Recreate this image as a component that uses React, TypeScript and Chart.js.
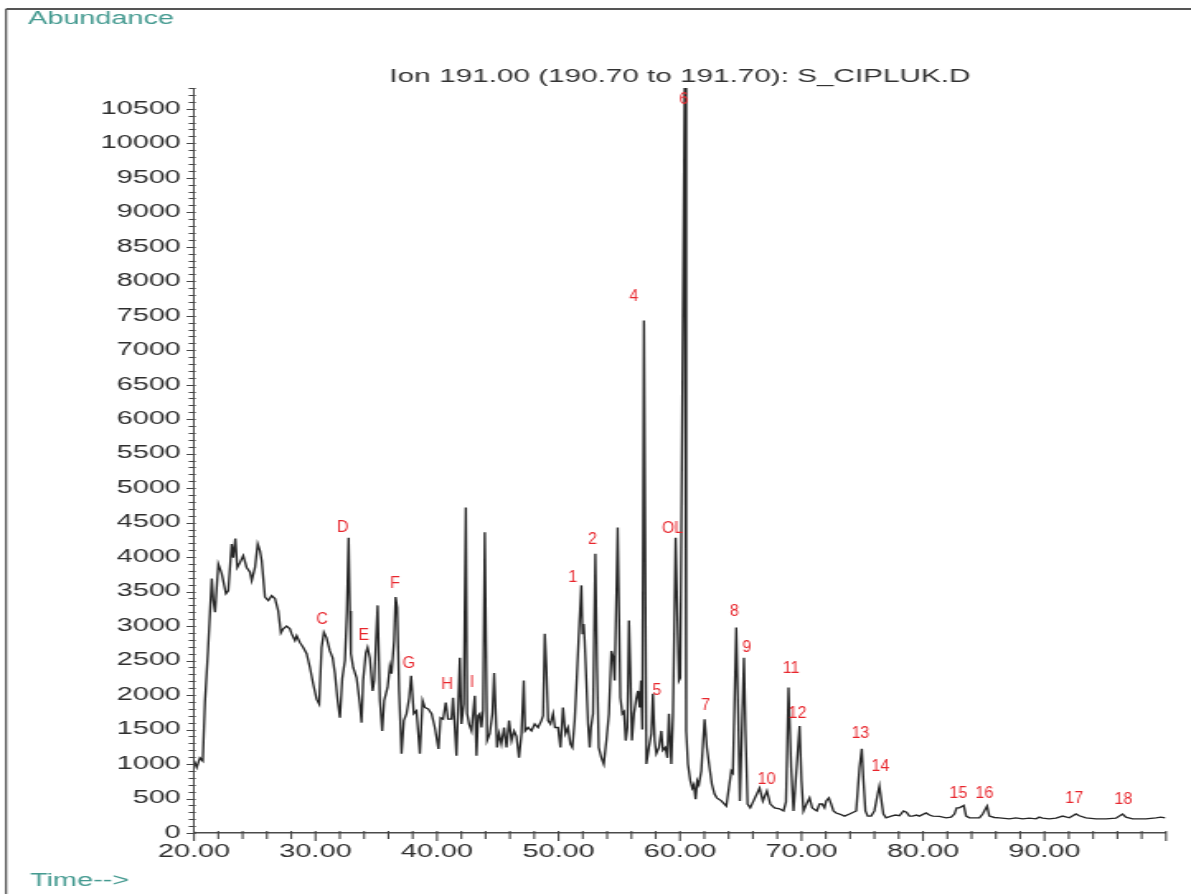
import React, { useEffect, useRef } from 'react';
import { Chart, registerables } from 'chart.js';

Chart.register(...registerables);

// ---- page / stretch (the reference image is horizontally stretched) ----
const PAGE_W = 1191;
const PAGE_H = 894;
const STRETCH = 1.65;
const CANVAS_W = Math.round(PAGE_W / STRETCH);
const SX = PAGE_W / CANVAS_W;

// ---- axes ----
const TIME_MIN = 20;
const TIME_MAX = 100;
const TIME_STEP = 2;
const TIME_LABEL_EVERY = 10;
const ABUND_MIN = 0;
const ABUND_MAX = 10800;
const ABUND_STEP = 100;
const ABUND_LABEL_EVERY = 500;

const TITLE = 'Ion 191.00 (190.70 to 191.70): S_CIPLUK.D';
const Y_TITLE = 'Abundance';
const X_TITLE = 'Time-->';

// ---- trace: [retention time (min), abundance] ----
const traceEarly: [number, number][] = [
  [20.0, 1050], [20.22, 950], [20.49, 1090], [20.72, 1045], [20.9, 1900], [21.15, 2640], [21.46, 3690], [21.59, 3370],
  [21.73, 3200], [22.0, 3900], [22.28, 3760], [22.63, 3470], [22.82, 3510], [23.1, 4190], [23.23, 3990], [23.4, 4270],
  [23.56, 3850], [23.78, 3920], [24.05, 4020], [24.33, 3850], [24.61, 3780], [24.75, 3660], [25.02, 3850], [25.24, 4190],
  [25.43, 4090], [25.57, 3950], [25.84, 3420], [26.11, 3370], [26.39, 3440], [26.66, 3400], [26.93, 3220], [27.15, 2900],
  [27.34, 2960], [27.62, 3000], [27.89, 2960], [28.03, 2890], [28.31, 2790], [28.45, 2860], [28.72, 2760], [28.99, 2690],
  [29.27, 2600], [29.54, 2400], [29.81, 2160], [30.09, 1940], [30.3, 1870], [30.5, 2690], [30.69, 2910], [30.91, 2830],
  [31.18, 2640], [31.41, 2540], [31.6, 2310], [31.82, 1920], [32.01, 1670], [32.2, 2240], [32.42, 2500], [32.58, 3200],
  [32.72, 4280], [32.83, 3220], [32.91, 2600], [33.1, 2400], [33.38, 2250], [33.65, 1870], [33.79, 1600], [33.92, 2210],
  [34.14, 2610], [34.28, 2690], [34.47, 2540], [34.7, 2060], [34.83, 2210], [35.11, 3300], [35.3, 1920], [35.49, 1480],
  [35.65, 1920], [35.93, 2110], [36.12, 2420], [36.26, 2310], [36.47, 2790], [36.59, 3420], [36.72, 3270], [36.88, 2060],
  [37.08, 1150], [37.27, 1630], [37.49, 1730], [37.71, 1960], [37.87, 2280], [38.09, 1730], [38.31, 1770], [38.59, 1150],
  [38.81, 1920], [39.0, 1820], [39.27, 1800], [39.55, 1730], [39.82, 1530],
];

const traceMid: [number, number][] = [
  [40.12, 1220], [40.29, 1670], [40.5, 1650], [40.72, 1890], [40.91, 1650], [41.19, 1650], [41.32, 1960], [41.6, 1120],
  [41.74, 1820], [41.88, 2540], [42.01, 1580], [42.2, 1870], [42.37, 4720], [42.48, 1730], [42.64, 1580], [42.84, 1480],
  [43.11, 1990], [43.25, 1120], [43.38, 1700], [43.52, 1730], [43.66, 1530], [43.79, 1780], [43.93, 4360], [44.12, 1340],
  [44.34, 1440], [44.56, 1730], [44.7, 2320], [44.94, 1240], [45.11, 1440], [45.3, 1290], [45.52, 1530], [45.72, 1240],
  [45.93, 1630], [46.13, 1340], [46.34, 1480], [46.54, 1400], [46.75, 1090], [46.95, 1440], [47.14, 2210], [47.25, 1480],
  [47.49, 1530], [47.77, 1480], [48.04, 1580], [48.31, 1530], [48.59, 1630], [48.73, 1700], [48.87, 2890], [49.0, 2400],
  [49.14, 1630], [49.33, 1580], [49.55, 1730], [49.71, 1530], [49.96, 1530], [50.16, 1240], [50.37, 1820], [50.57, 1440],
  [50.78, 1530], [50.98, 1290], [51.14, 1240], [51.33, 1630], [51.47, 2110], [51.66, 2830], [51.88, 3590], [51.97, 2890],
  [52.07, 3030], [52.15, 2800], [52.29, 2210], [52.43, 1580], [52.57, 1240], [52.67, 1530], [52.84, 1730], [53.03, 4050],
  [53.17, 2400], [53.31, 1240], [53.53, 1090], [53.72, 1000], [53.94, 1340], [54.15, 1730], [54.35, 2640], [54.48, 2560],
  [54.62, 2210], [54.87, 4430], [54.98, 3180], [55.09, 1960], [55.25, 1730], [55.39, 1760], [55.53, 1340], [55.67, 1530],
  [55.8, 3080], [55.91, 2400], [56.04, 1340], [56.21, 1730], [56.41, 1960], [56.54, 2060], [56.68, 1820], [56.79, 2210],
  [56.9, 1500], [57.03, 7430], [57.23, 1000], [57.44, 1240], [57.64, 1440], [57.77, 2020], [57.91, 1340], [58.05, 1150],
  [58.27, 1240], [58.46, 1480], [58.59, 1200], [58.79, 1240], [58.96, 1090], [59.09, 1730], [59.28, 1000], [59.42, 1700],
  [59.64, 4280], [59.78, 3180], [59.91, 2210], [60.02, 2250], [60.38, 10800], [60.51, 1480], [60.65, 1000], [60.85, 755],
];

const traceLate: [number, number][] = [
  [61.01, 650], [61.14, 700], [61.28, 490], [61.42, 755], [61.55, 700], [61.75, 900], [62.02, 1650], [62.21, 1240],
  [62.43, 945], [62.62, 710], [62.84, 565], [63.03, 510], [63.4, 465], [63.81, 390], [64.02, 650], [64.22, 900],
  [64.35, 870], [64.63, 2980], [64.79, 1730], [64.93, 465], [65.26, 2540], [65.39, 1480], [65.56, 420], [65.78, 365],
  [66.05, 465], [66.32, 565], [66.55, 650], [66.82, 465], [67.15, 610], [67.43, 420], [67.78, 365], [68.19, 350],
  [68.52, 320], [68.72, 450], [68.93, 2110], [69.15, 945], [69.34, 320], [69.84, 1550], [70.0, 755], [70.16, 320],
  [70.41, 420], [70.66, 510], [70.88, 365], [71.07, 340], [71.26, 320], [71.48, 420], [71.7, 420], [71.89, 365],
  [72.03, 465], [72.25, 510], [72.44, 420], [72.63, 320], [72.85, 290], [73.13, 275], [73.54, 245], [73.95, 275],
  [74.5, 320], [74.77, 945], [74.96, 1220], [75.1, 755], [75.26, 320], [75.45, 245], [75.73, 245], [76.0, 320],
  [76.27, 565], [76.41, 680], [76.58, 465], [76.74, 275], [76.96, 220], [77.38, 245], [77.73, 260], [78.06, 250],
  [78.39, 320], [78.63, 300], [78.88, 245], [79.13, 245], [79.46, 260], [79.7, 245], [80.25, 290], [80.53, 260],
  [80.8, 245], [81.35, 240], [81.9, 220], [82.31, 230], [82.58, 275], [82.77, 365], [82.99, 365], [83.26, 390],
  [83.35, 400], [83.55, 245], [83.82, 220], [84.23, 220], [84.64, 220], [84.91, 275], [85.27, 390], [85.46, 245],
  [85.87, 225], [86.28, 220], [87.11, 205], [87.65, 220], [88.2, 205], [88.75, 215], [89.3, 205], [89.57, 230],
  [89.84, 215], [90.39, 205], [90.95, 215], [91.49, 245], [92.04, 220], [92.59, 275], [92.86, 250], [93.41, 220],
  [94.24, 205], [95.06, 205], [95.88, 215], [96.42, 275], [96.7, 230], [97.25, 205], [98.35, 205], [99.17, 220],
  [99.58, 230], [99.93, 220],
];

// ---- peak annotations (label text, time, abundance where the label sits) ----
const peakNames = ['C', 'D', 'E', 'F', 'G', 'H', 'I', '1', '2', '4', '5', 'OL', '6', '7', '8', '9', '10', '11', '12', '13', '14', '15', '16', '17', '18'];
const peakTimes = [30.53, 32.25, 33.98, 36.53, 37.68, 40.81, 42.86, 51.17, 52.81, 56.18, 58.1, 59.39, 60.3, 62.11, 64.49, 65.48, 67.12, 69.14, 69.67, 74.85, 76.5, 82.91, 85.05, 92.45, 96.48];
const peakLabelLevels = [3093, 4430, 2860, 3615, 2454, 2149, 2178, 3703, 4254, 7783, 2062, 4414, 10629, 1844, 3209, 2686, 770, 2381, 1728, 1437, 958, 566, 566, 494, 479];

const FONT_FAMILY = '"Liberation Sans", Arial, Helvetica, sans-serif';
const AXIS_COLOR = '#4a4a4a';
const TEXT_COLOR = '#2e2e2e';
const TEAL = '#449a90';
const PEAK_RED = '#e8262d';

const PLOT_TOP = 88;
const PLOT_BOTTOM = 833;
const PLOT_LEFT = 194;
const PLOT_RIGHT = 1166;
const TITLE_FONT = 18;

const decorPlugin = {
  id: 'decor',
  beforeDraw(chart: any) {
    const { ctx, width, height } = chart;
    ctx.save();
    ctx.fillStyle = '#ffffff';
    ctx.fillRect(0, 0, width, height);
    ctx.strokeStyle = '#555555';
    ctx.lineWidth = 1.3;
    ctx.beginPath();
    ctx.moveTo(6 / SX, height);
    ctx.lineTo(6 / SX, 9);
    ctx.stroke();
    ctx.lineWidth = 2;
    ctx.beginPath();
    ctx.moveTo(6 / SX, 9);
    ctx.lineTo(width, 9);
    ctx.stroke();
    ctx.restore();
  },
  afterDatasetsDraw(chart: any) {
    const { ctx } = chart;
    const xs = chart.scales.x;
    const ys = chart.scales.y;
    ctx.save();
    ctx.fillStyle = PEAK_RED;
    ctx.font = `16px ${FONT_FAMILY}`;
    ctx.textAlign = 'center';
    ctx.textBaseline = 'middle';
    peakNames.forEach((name, i) => {
      const px = xs.getPixelForValue(peakTimes[i]);
      const py = ys.getPixelForValue(peakLabelLevels[i]);
      ctx.save();
      ctx.translate(px, py);
      ctx.scale(1 / SX, 1);
      ctx.fillText(name, 0, 0);
      ctx.restore();
    });
    ctx.restore();
  },
  afterDraw(chart: any) {
    const { ctx, chartArea } = chart;
    const xs = chart.scales.x;
    const ys = chart.scales.y;
    ctx.save();
    // tick marks: every TIME_STEP on x, every ABUND_STEP on y
    ctx.strokeStyle = '#444444';
    ctx.beginPath();
    ctx.lineWidth = 1.1;
    for (let v = TIME_MIN; v <= TIME_MAX + 1e-9; v += TIME_STEP) {
      const px = xs.getPixelForValue(v);
      const major = Math.round(v) % TIME_LABEL_EVERY === 0;
      ctx.moveTo(px, chartArea.bottom - 2);
      ctx.lineTo(px, chartArea.bottom + (major ? 8 : 6));
    }
    ctx.stroke();
    ctx.beginPath();
    ctx.lineWidth = 1.2;
    for (let v = ABUND_MIN; v <= ABUND_MAX + 1e-9; v += ABUND_STEP) {
      const py = Math.round(ys.getPixelForValue(v)) + 0.5;
      const major = Math.round(v) % ABUND_LABEL_EVERY === 0;
      ctx.moveTo(chartArea.left + 1, py);
      ctx.lineTo(chartArea.left - (major ? 4.5 : 3.2), py);
    }
    ctx.stroke();

    ctx.fillStyle = TEAL;
    ctx.font = `17.5px ${FONT_FAMILY}`;
    ctx.textAlign = 'left';
    ctx.textBaseline = 'middle';
    ctx.fillText(Y_TITLE, 28 / SX, 19);
    ctx.fillText(X_TITLE, 30 / SX, 881);
    ctx.restore();
  },
};

export default function App() {
  const canvasRef = useRef<HTMLCanvasElement | null>(null);

  useEffect(() => {
    if (!canvasRef.current) return;
    const points = [...traceEarly, ...traceMid, ...traceLate].map(([t, a]) => ({ x: t, y: a }));
    const titleLine = TITLE_FONT * 1.2;
    const titleTopPad = 66.5;
    const chart = new Chart(canvasRef.current, {
      type: 'line',
      data: {
        datasets: [
          {
            data: points,
            borderColor: '#262626',
            borderWidth: 1.35,
            pointRadius: 0,
            tension: 0,
            fill: false,
          },
        ],
      },
      options: {
        animation: false,
        responsive: false,
        devicePixelRatio: 1,
        events: [],
        layout: { padding: { top: 0, left: 0, right: CANVAS_W - PLOT_RIGHT / SX, bottom: 0 } },
        plugins: {
          legend: { display: false },
          tooltip: { enabled: false },
          title: {
            display: true,
            text: TITLE,
            fullSize: false,
            align: 'center',
            color: '#333333',
            font: { family: FONT_FAMILY, size: TITLE_FONT, weight: 'normal', lineHeight: 1.2 },
            padding: { top: titleTopPad, bottom: Math.max(0, PLOT_TOP - titleTopPad - titleLine) },
          },
        },
        scales: {
          x: {
            type: 'linear',
            min: TIME_MIN,
            max: TIME_MAX,
            grid: { drawOnChartArea: false, drawTicks: true, tickLength: 6, color: 'rgba(0,0,0,0)' },
            border: { display: true, color: AXIS_COLOR, width: 1.5 },
            ticks: {
              stepSize: TIME_STEP,
              autoSkip: false,
              maxRotation: 0,
              minRotation: 0,
              padding: 2.5,
              color: TEXT_COLOR,
              font: { family: FONT_FAMILY, size: 17.5 },
              callback: (v: any) => {
                const n = Math.round(Number(v) * 100) / 100;
                return n % TIME_LABEL_EVERY === 0 && n < TIME_MAX ? n.toFixed(2) : '';
              },
            },
            afterFit: (s: any) => {
              s.height = PAGE_H - PLOT_BOTTOM;
            },
          },
          y: {
            type: 'linear',
            min: ABUND_MIN,
            max: ABUND_MAX,
            grid: { drawOnChartArea: false, drawTicks: true, tickLength: 3.5, color: 'rgba(0,0,0,0)' },
            border: { display: true, color: AXIS_COLOR, width: 1 },
            ticks: {
              stepSize: ABUND_STEP,
              autoSkip: false,
              padding: 4.5,
              color: TEXT_COLOR,
              font: { family: FONT_FAMILY, size: 17.5 },
              callback: (v: any) => {
                const n = Math.round(Number(v));
                return n % ABUND_LABEL_EVERY === 0 ? String(n) : '';
              },
            },
            afterFit: (s: any) => {
              s.width = PLOT_LEFT / SX;
            },
          },
        },
      },
      plugins: [decorPlugin],
    } as any);
    return () => chart.destroy();
  }, []);

  return (
    <div style={{ position: 'absolute', left: 0, top: 0, width: PAGE_W, height: PAGE_H, background: '#fff' }}>
      <canvas
        ref={canvasRef}
        width={CANVAS_W}
        height={PAGE_H}
        style={{ display: 'block', width: `${PAGE_W}px`, height: `${PAGE_H}px` }}
      />
    </div>
  );
}
